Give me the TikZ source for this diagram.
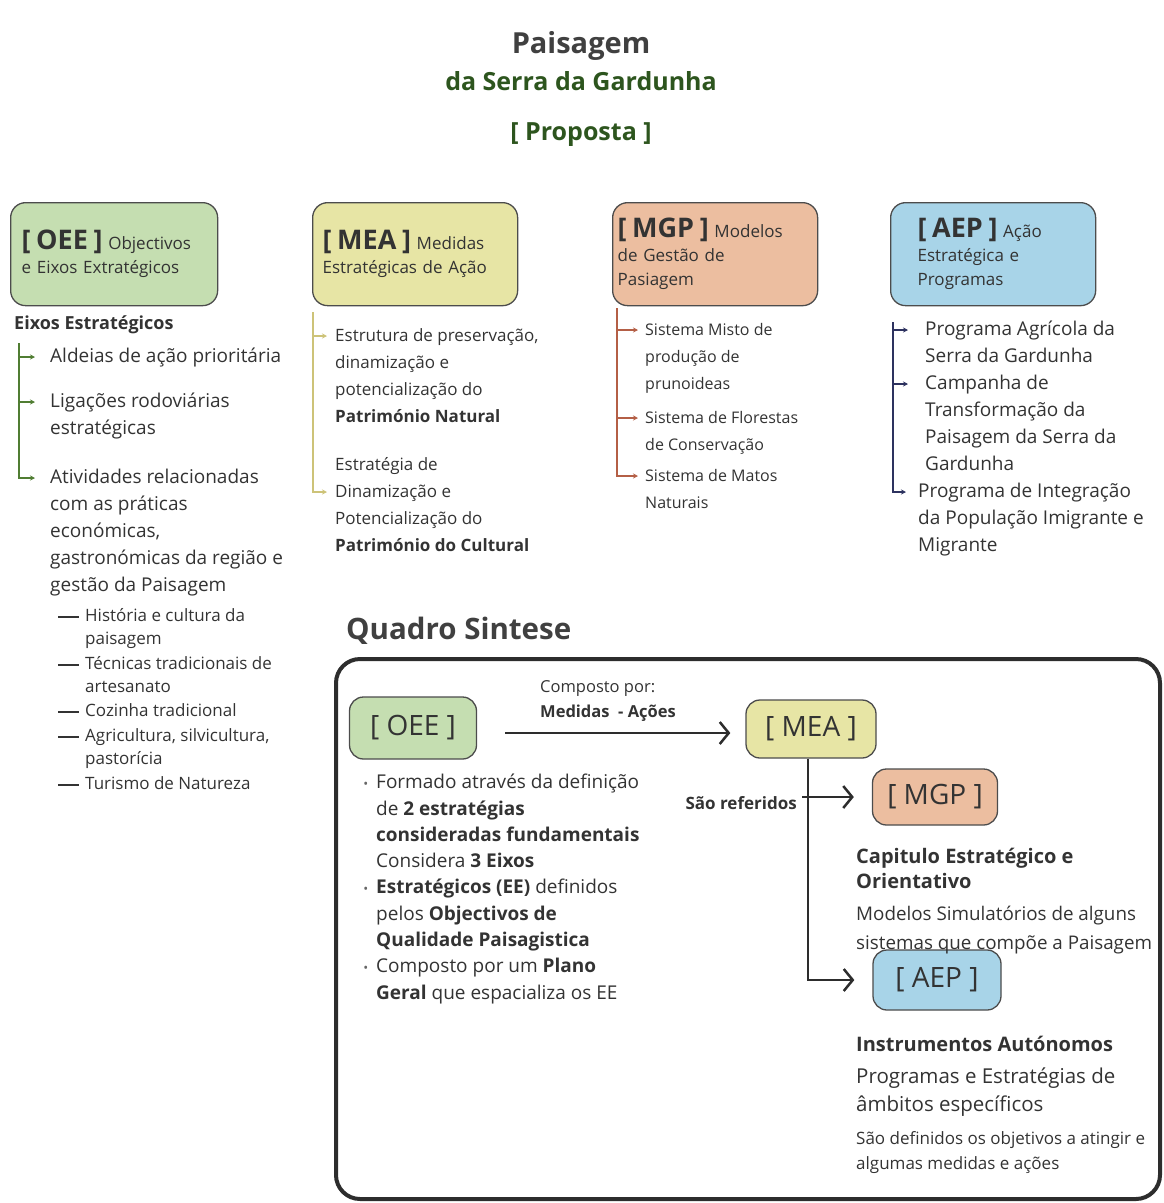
\documentclass[tikz,border=0pt]{standalone}
\usepackage{fontspec}
\setmainfont{Open Sans}
\usetikzlibrary{arrows.meta,calc,positioning}

\definecolor{ink}{RGB}{51,51,51}
\definecolor{titlegrey}{RGB}{64,64,64}
\definecolor{titlegreen}{RGB}{45,85,30}
\definecolor{oeefill}{RGB}{197,222,177}
\definecolor{meafill}{RGB}{231,229,165}
\definecolor{mgpfill}{RGB}{236,190,160}
\definecolor{aepfill}{RGB}{168,212,232}
\definecolor{oeegreen}{RGB}{80,125,50}
\definecolor{meaolive}{RGB}{205,195,120}
\definecolor{mgpred}{RGB}{180,95,70}
\definecolor{aepnavy}{RGB}{45,50,95}
\definecolor{frame}{RGB}{45,45,45}

\newcommand{\sigla}[1]{{\fontsize{27}{27}\selectfont\bfseries [ #1 ]}}
\newcommand{\blt}{\llap{\textcolor{ink!75}{\fontsize{13}{13}\selectfont\textbullet}\hspace{8pt}}}

\begin{document}
\begin{tikzpicture}[x=1pt,y=-1pt,
  every node/.style={inner sep=0pt,text=ink},
  catbox/.style={draw=frame!85,line width=1.3pt,rounded corners=15pt,anchor=north west,
    align=left,minimum height=103pt,font=\fontsize{17}{24}\selectfont},
  item/.style={anchor=north west,align=left,font=\fontsize{16}{27}\selectfont},
  subitem/.style={anchor=north west,align=left,font=\fontsize{17}{23}\selectfont},
  twig/.style={line width=1.2pt,-{Stealth[length=5pt,width=5pt]}},
  minibox/.style={draw=frame!85,line width=1.3pt,rounded corners=14pt,font=\fontsize{28}{28}\selectfont},
  bigarrow/.style={line width=2.5pt,draw=frame,-{Straight Barb[length=9pt,width=22pt,line width=2.5pt]}}]
\useasboundingbox (0,0) rectangle (1163,1203);

% titulo
\node[font=\fontsize{29}{29}\selectfont\bfseries,text=titlegrey] (titulo) at (581,46) {Paisagem};
\node[font=\fontsize{25}{25}\selectfont\bfseries,text=titlegreen] (subtitulo) at (581,81) {da Serra da Gardunha};
\node[font=\fontsize{25}{25}\selectfont\bfseries,text=titlegreen] (proposta) at (581,135) {[ Proposta ]};

% caixas de topo
\node[catbox,fill=oeefill,text width=185pt,inner xsep=11pt] (oee) at (10,202) {\sigla{OEE} Objectivos\\e Eixos Extratégicos};
\node[catbox,fill=meafill,text width=185pt,inner xsep=10pt] (mea) at (312,202) {\sigla{MEA} Medidas\\Estratégicas de Ação};
\node[catbox,fill=mgpfill,text width=195pt,inner xsep=5pt] (mgp) at (612,202) {\sigla{MGP} Modelos\\de Gestão de\\Pasiagem};
\node[catbox,fill=aepfill,text width=151pt,inner xsep=27pt] (aep) at (890,202) {\sigla{AEP} Ação\\Estratégica e\\Programas};

% OEE
\node[anchor=north west,font=\fontsize{18}{18}\selectfont\bfseries] (eixos) at (14,316) {Eixos Estratégicos};
\node[item,font=\fontsize{19}{27}\selectfont] (a1) at (50,348) {Aldeias de ação prioritária};
\node[item,font=\fontsize{19}{27}\selectfont] (a2) at (50,393) {Ligações rodoviárias\\estratégicas};
\node[item,font=\fontsize{19}{27}\selectfont] (a3) at (50,469) {Atividades relacionadas\\com as práticas\\económicas,\\gastronómicas da região e\\gestão da Paisagem};
\node[subitem] (s1) at (85,608) {História e cultura da\\paisagem};
\node[subitem] (s2) at (85,656) {Técnicas tradicionais de\\artesanato};
\node[subitem] (s3) at (85,703) {Cozinha tradicional};
\node[subitem] (s4) at (85,728) {Agricultura, silvicultura,\\pastorícia};
\node[subitem] (s5) at (85,776) {Turismo de Natureza};
\coordinate (oeeroot) at (19,343);
\coordinate (a1in) at ($(a1.north west)+(-15,9)$);
\coordinate (a2in) at ($(a2.north west)+(-15,9)$);
\coordinate (a3in) at ($(a3.north west)+(-15,9)$);
\draw[twig,oeegreen] (oeeroot) |- (a3in);
\draw[twig,oeegreen] (oeeroot |- a1in) -- (a1in);
\draw[twig,oeegreen] (oeeroot |- a2in) -- (a2in);
\foreach \s in {s1,s2,s3,s4,s5}
  \draw[line width=1.3pt,ink] ($(\s.north west)+(-27,9)$) -- ++(21,0);

% MEA
\node[item,font=\fontsize{17}{27}\selectfont] (m1) at (335,328) {Estrutura de preservação,\\dinamização e\\potencialização do\\\textbf{Património Natural}};
\node[item,font=\fontsize{17}{27}\selectfont] (m2) at (335,457) {Estratégia de\\Dinamização e\\Potencialização do\\\textbf{Património do Cultural}};
\coordinate (mearoot) at (313,312);
\coordinate (m1in) at ($(m1.north west)+(-8,8)$);
\coordinate (m2in) at ($(m2.north west)+(-8,35)$);
\draw[twig,meaolive] (mearoot) |- (m2in);
\draw[twig,meaolive] (mearoot |- m1in) -- (m1in);

% MGP
\node[item] (g1) at (645,323) {Sistema Misto de\\produção de\\prunoideas};
\node[item] (g2) at (645,411) {Sistema de Florestas\\de Conservação};
\node[item] (g3) at (645,469) {Sistema de Matos\\Naturais};
\coordinate (mgproot) at (617,308);
\coordinate (g1in) at ($(g1.north west)+(-7,7)$);
\coordinate (g2in) at ($(g2.north west)+(-7,7)$);
\coordinate (g3in) at ($(g3.north west)+(-7,7)$);
\draw[twig,mgpred] (mgproot) |- (g3in);
\draw[twig,mgpred] (mgproot |- g1in) -- (g1in);
\draw[twig,mgpred] (mgproot |- g2in) -- (g2in);

% AEP
\node[item,font=\fontsize{19}{27}\selectfont] (p1) at (925,321) {Programa Agrícola da\\Serra da Gardunha};
\node[item,font=\fontsize{19}{27}\selectfont] (p2) at (925,375) {Campanha de\\Transformação da\\Paisagem da Serra da\\Gardunha};
\node[item,font=\fontsize{19}{27}\selectfont] (p3) at (918,483) {Programa de Integração\\da População Imigrante e\\Migrante};
\coordinate (aeproot) at (893,322);
\coordinate (p1in) at ($(p1.north west)+(-17,9)$);
\coordinate (p2in) at ($(p2.north west)+(-17,9)$);
\coordinate (p3in) at ($(p3.north west)+(-12,9)$);
\draw[twig,aepnavy] (aeproot) |- (p3in);
\draw[twig,aepnavy] (aeproot |- p1in) -- (p1in);
\draw[twig,aepnavy] (aeproot |- p2in) -- (p2in);

% quadro sintese
\node[anchor=west,font=\fontsize{29.5}{29.5}\selectfont\bfseries,text=titlegrey] (quadro) at (346,631) {Quadro Sintese};
\node[draw=frame,line width=4pt,rounded corners=24pt,anchor=north west,minimum width=824pt,minimum height=540pt] (moldura) at (334,657) {};

\node[minibox,fill=oeefill,minimum width=127pt,minimum height=62pt] (qoee) at (413,728) {[ OEE ]};
\node[minibox,fill=meafill,minimum width=130pt,minimum height=58pt] (qmea) at (811,729) {[ MEA ]};
\node[minibox,fill=mgpfill,minimum width=125pt,minimum height=56pt] (qmgp) at (935,797) {[ MGP ]};
\node[minibox,fill=aepfill,minimum width=128pt,minimum height=60pt] (qaep) at (937,980) {[ AEP ]};

\node[anchor=north west,align=left,font=\fontsize{16.5}{25}\selectfont] (composto) at (540,680) {Composto por:\\\textbf{Medidas\ \ - Ações}};
\draw[bigarrow] ([xshift=28pt,yshift=-5pt]qoee.east) -- ([xshift=-15pt,yshift=-4pt]qmea.west);

\coordinate (ramo) at ([xshift=-3pt]qmea.south);
\coordinate (mgpfork) at ($(ramo |- qmgp.west)+(-6,0)$);
\draw[bigarrow] (ramo) |- ([xshift=-18pt]qaep.west);
\draw[bigarrow] (mgpfork) -- ([xshift=-18pt]qmgp.west);
\node[anchor=east,font=\fontsize{17}{17}\selectfont\bfseries] (referidos) at (797,803) {São referidos};

\node[anchor=north west,align=left,font=\fontsize{19}{26.3}\selectfont] (formado) at (376,774)
  {\blt Formado através da definição\\de \textbf{2 estratégias}\\\textbf{consideradas fundamentais}\\Considera \textbf{3 Eixos}\\\blt\textbf{Estratégicos (EE)} definidos\\pelos \textbf{Objectivos de}\\\textbf{Qualidade Paisagistica}\\\blt Composto por um \textbf{Plano}\\\textbf{Geral} que espacializa os EE};

\node[anchor=north west,align=left,font=\fontsize{20}{25}\selectfont\bfseries] (capitulo) at (856,848) {Capitulo Estratégico e\\Orientativo};
\node[anchor=north west,align=left,font=\fontsize{18.8}{29}\selectfont] (modelos) at (856,906) {Modelos Simulatórios de alguns\\sistemas que compõe a Paisagem};
\node[anchor=north west,font=\fontsize{20}{20}\selectfont\bfseries] (instrumentos) at (856,1036) {Instrumentos Autónomos};
\node[anchor=north west,align=left,font=\fontsize{20.5}{28}\selectfont] (programas) at (856,1068) {Programas e Estratégias de\\âmbitos específicos};
\node[anchor=north west,align=left,font=\fontsize{17}{25}\selectfont] (definidos) at (856,1131) {São definidos os objetivos a atingir e\\algumas medidas e ações};
\end{tikzpicture}
\end{document}
